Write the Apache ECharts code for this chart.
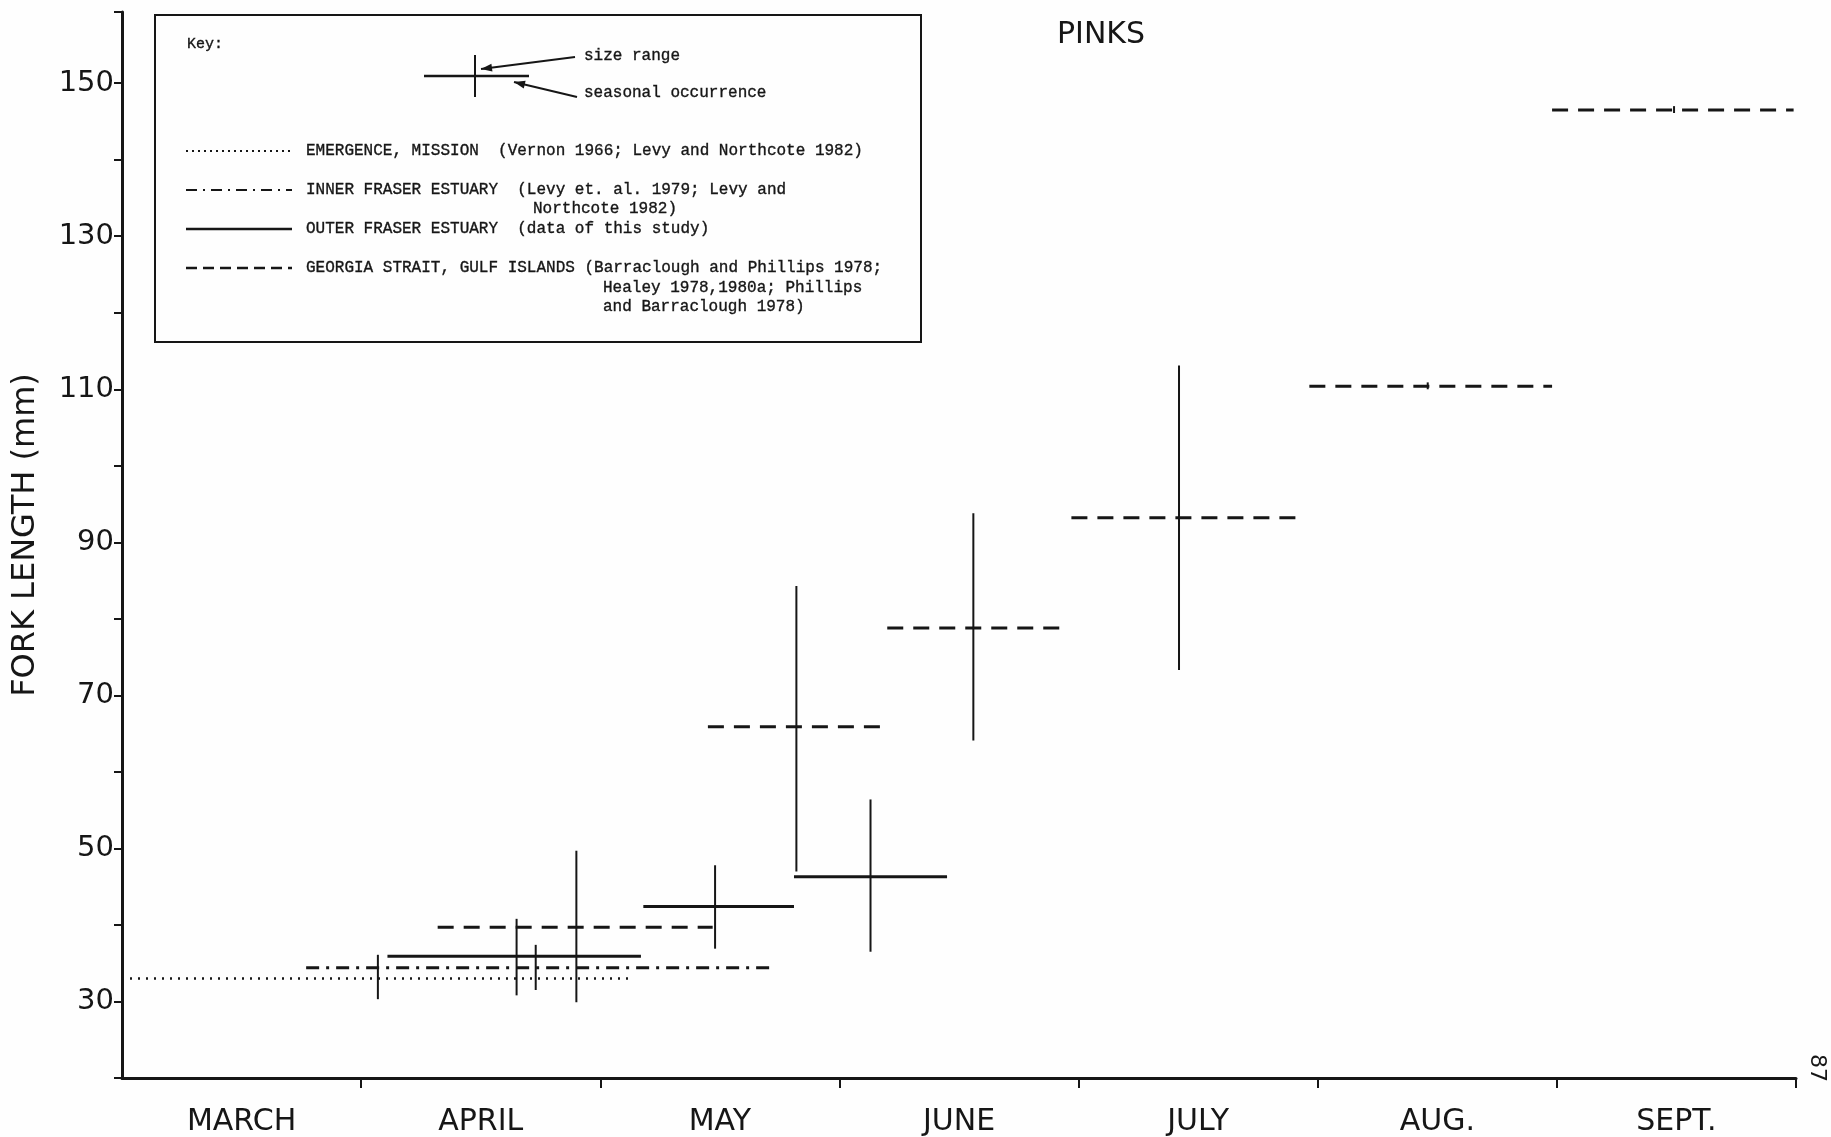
<!DOCTYPE html>
<html>
<head>
<meta charset="utf-8">
<script src="https://cdn.jsdelivr.net/npm/echarts@6/dist/echarts.min.js"></script>
<style>
html,body{margin:0;padding:0;background:#fefefe;}
#chart{width:1831px;height:1137px;}
</style>
</head>
<body>
<div id="chart"></div>
<script>
// ---- data (x = months after 1 March; 0 = 1 March, 7 = 1 October) ----
const months = ['MARCH', 'APRIL', 'MAY', 'JUNE', 'JULY', 'AUG.', 'SEPT.'];
const yTickLabels = [30, 50, 70, 90, 110, 130, 150];
const title = 'PINKS';
const yTitle = 'FORK LENGTH (mm)';

// seasonal occurrence: [start, end, mean fork length]
const emergenceSpan = [[0, 2.12, 33.0]];
const innerSpan = [[0.77, 2.72, 34.4]];
const outerSpan = [[1.11, 2.17, 35.9], [2.18, 2.81, 42.4], [2.81, 3.45, 46.3]];
const georgiaSpan = [[1.32, 2.47, 39.7], [2.45, 3.19, 65.9], [3.20, 3.94, 78.8],
                     [3.97, 4.91, 93.2], [4.965, 5.98, 110.4], [5.98, 6.99, 146.5]];

// size range: [time, min, max]
const emergenceRange = [[1.07, 30.3, 36.1]];
const innerRange = [[1.73, 31.5, 37.4]];
const outerRange = [[1.65, 30.8, 40.8], [2.48, 36.9, 47.8], [3.13, 36.5, 56.4]];
const georgiaRange = [[1.90, 29.9, 49.7], [2.82, 47.0, 84.3], [3.56, 64.1, 93.8],
                      [4.42, 73.3, 113.1], [5.46, 110.0, 110.9], [6.49, 146.1, 147.0]];

// ---- styling ----
const INK = '#161616';
const SANS = '"DejaVu Sans", sans-serif';
const MONO = '"Liberation Mono", "DejaVu Sans Mono", monospace';
const DASH_GEORGIA = [16, 10];
const DASH_INNER = [13, 7, 3, 7];
const DASH_EMERGE = [2, 6];

function spanSeries(name, data, dash, width) {
  return {
    name, type: 'custom', xAxisIndex: 0, yAxisIndex: 0, data, silent: true, clip: false,
    renderItem: function (params, api) {
      const p1 = api.coord([api.value(0), api.value(2)]);
      const p2 = api.coord([api.value(1), api.value(2)]);
      return {
        type: 'line',
        shape: { x1: p1[0], y1: p1[1], x2: p2[0], y2: p2[1] },
        style: { stroke: INK, lineWidth: width, lineDash: dash, lineCap: 'butt' }
      };
    }
  };
}
function rangeSeries(name, data, width) {
  return {
    name, type: 'custom', xAxisIndex: 0, yAxisIndex: 0, data, silent: true, clip: false,
    renderItem: function (params, api) {
      const p1 = api.coord([api.value(0), api.value(1)]);
      const p2 = api.coord([api.value(0), api.value(2)]);
      return {
        type: 'line',
        shape: { x1: p1[0], y1: p1[1], x2: p2[0], y2: p2[1] },
        style: { stroke: INK, lineWidth: width }
      };
    }
  };
}

// ---- key box (decoration) ----
function txt(x, y, s, opts) {
  return {
    type: 'text', x, y,
    style: Object.assign({ text: s, fill: INK, font: '16px ' + MONO, align: 'left', verticalAlign: 'middle',
                           stroke: INK, lineWidth: 0.35 }, (opts || {}))
  };
}
function seg(x1, y1, x2, y2, w, dash) {
  return { type: 'line', shape: { x1, y1, x2, y2 }, style: { stroke: INK, lineWidth: w, lineDash: dash || null } };
}
function arrowHead(x, y, fromX, fromY) {
  const a = Math.atan2(y - fromY, x - fromX);
  const L = 11, W = 4;
  const bx = x - L * Math.cos(a), by = y - L * Math.sin(a);
  const nx = -Math.sin(a), ny = Math.cos(a);
  return { type: 'polygon', shape: { points: [[x, y], [bx + W * nx, by + W * ny], [bx - W * nx, by - W * ny]] }, style: { fill: INK } };
}

const keyElems = [
  { type: 'rect', shape: { x: 155, y: 15, width: 766, height: 327 }, style: { fill: 'none', stroke: INK, lineWidth: 2 } },
  txt(187, 44, 'Key:', { font: '15px ' + MONO }),
  seg(424, 76, 529, 76, 2.5),
  seg(475, 55, 475, 97, 2),
  seg(575, 57, 481, 69, 2), arrowHead(481, 69, 575, 57),
  seg(577, 97, 514, 82, 2), arrowHead(514, 82, 577, 97),
  txt(584, 56, 'size range'),
  txt(584, 93, 'seasonal occurrence'),
  seg(186, 151, 292, 151, 2, [2, 4]),
  txt(306, 151, 'EMERGENCE, MISSION  (Vernon 1966; Levy and Northcote 1982)'),
  seg(186, 190, 292, 190, 2, [11, 6, 2, 6]),
  txt(306, 190, 'INNER FRASER ESTUARY  (Levy et. al. 1979; Levy and'),
  txt(533, 209, 'Northcote 1982)'),
  seg(186, 229, 292, 229, 2.5),
  txt(306, 229, 'OUTER FRASER ESTUARY  (data of this study)'),
  seg(186, 268, 292, 268, 2.5, [11, 6]),
  txt(306, 268, 'GEORGIA STRAIT, GULF ISLANDS (Barraclough and Phillips 1978;'),
  txt(603, 288, 'Healey 1978,1980a; Phillips'),
  txt(603, 307, 'and Barraclough 1978)')
];

const chart = echarts.init(document.getElementById('chart'), null, { renderer: 'canvas' });
chart.setOption({
  backgroundColor: '#fefefe',
  animation: false,
  grid: { left: 122, right: 35, top: 12, bottom: 59, containLabel: false, outerBoundsMode: 'none' },
  xAxis: [
    { type: 'value', min: 0, max: 7, show: false },
    {
      type: 'category', data: months, position: 'bottom', boundaryGap: true,
      axisLine: { show: true, lineStyle: { color: INK, width: 3 } },
      axisTick: { show: true, inside: false, length: 10, interval: function (i) { return i !== 0; },
                  lineStyle: { color: INK, width: 2 } },
      axisLabel: { color: INK, fontFamily: SANS, fontSize: 30, margin: 29, interval: 0 },
      splitLine: { show: false }
    }
  ],
  yAxis: [{
    type: 'value', min: 20, max: 159.3, interval: 10,
    axisLine: { show: true, onZero: false, lineStyle: { color: INK, width: 3 } },
    axisTick: { show: true, inside: false, length: 8, lineStyle: { color: INK, width: 2 } },
    axisLabel: {
      color: INK, fontFamily: SANS, fontSize: 29, margin: 8,
      formatter: function (v) {
        const r = Math.round(v * 10) / 10;
        return yTickLabels.indexOf(r) >= 0 ? String(r) : '';
      }
    },
    splitLine: { show: false }
  }],
  graphic: keyElems.concat([
    { type: 'text', x: 1101, y: 35, style: { text: title, fill: INK, font: '30px ' + SANS, align: 'center', verticalAlign: 'middle' } },
    { type: 'text', x: 26, y: 535, rotation: Math.PI / 2, style: { text: yTitle, fill: INK, font: '32px ' + SANS, align: 'center', verticalAlign: 'middle' } },
    { type: 'text', x: 1817, y: 1068, rotation: -Math.PI / 2, style: { text: '87', fill: INK, font: '22px ' + SANS, align: 'center', verticalAlign: 'middle' } }
  ]),
  series: [
    spanSeries('Emergence, Mission', emergenceSpan, DASH_EMERGE, 2.5),
    rangeSeries('Emergence range', emergenceRange, 2),
    spanSeries('Inner Fraser Estuary', innerSpan, DASH_INNER, 3),
    rangeSeries('Inner range', innerRange, 2),
    spanSeries('Outer Fraser Estuary', outerSpan, null, 3),
    rangeSeries('Outer range', outerRange, 2),
    spanSeries('Georgia Strait, Gulf Islands', georgiaSpan, DASH_GEORGIA, 3),
    rangeSeries('Georgia range', georgiaRange, 2)
  ]
});
</script>
</body>
</html>
